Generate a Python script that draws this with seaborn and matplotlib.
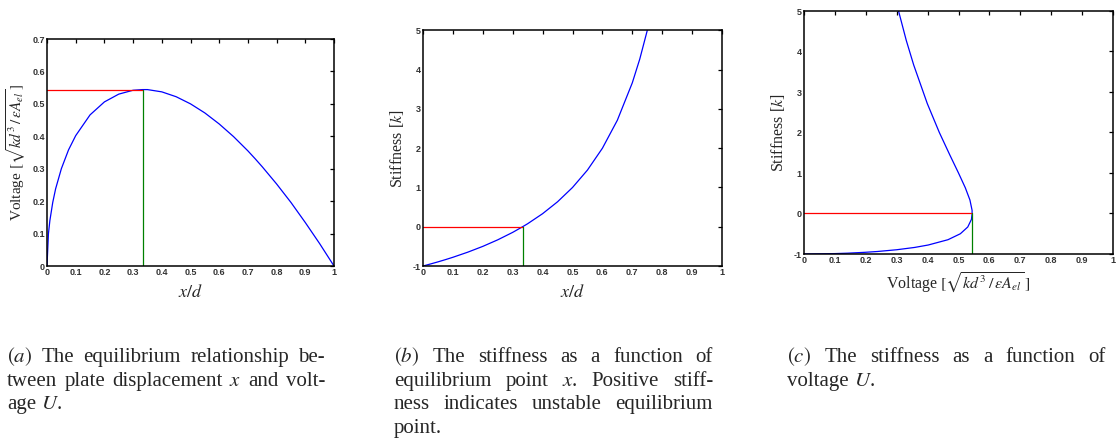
import numpy as np
import matplotlib
matplotlib.use("Agg")
import matplotlib.pyplot as plt
import seaborn as sns

# values
x_pos = [0, 0.005, 0.01, 0.02, 0.03, 0.05, 0.075, 0.1, 0.15, 0.2, 0.25, 0.3,
         0.333, 0.35, 0.4, 0.45, 0.5, 0.55, 0.6, 0.65, 0.7, 0.725, 0.75,
         0.8, 0.85, 0.9, 0.95, 1.0]
voltage = [0, 0.0995, 0.140, 0.196, 0.238, 0.300, 0.358, 0.402, 0.466, 0.506, 0.530, 0.542,
           0.544, 0.544, 0.537, 0.522, 0.500, 0.472, 0.438, 0.399, 0.355, 0.331, 0.306,
           0.253, 0.196, 0.134, 0.069, 0]
# stiffness only up to x/d = 0.75 (top of the plotted range)
stiffness = [-1.0, -0.990, -0.980, -0.959, -0.938, -0.895, -0.838, -0.778, -0.647, -0.500,
             -0.333, -0.143, 0.0, 0.077, 0.333, 0.636, 1.0, 1.444, 2.0, 2.714, 3.667,
             4.273, 5.0]
x_crit = 0.333
u_crit = 0.544

x_ticks = [0, 0.1, 0.2, 0.3, 0.4, 0.5, 0.6, 0.7, 0.8, 0.9, 1]
x_ticklabels = ["0", "0.1", "0.2", "0.3", "0.4", "0.5", "0.6", "0.7", "0.8", "0.9", "1"]
u_ticks = [0, 0.1, 0.2, 0.3, 0.4, 0.5, 0.6, 0.7]
u_ticklabels = ["0", "0.1", "0.2", "0.3", "0.4", "0.5", "0.6", "0.7"]
k_ticks = [-1, 0, 1, 2, 3, 4, 5]
k_ticklabels = ["-1", "0", "1", "2", "3", "4", "5"]

caption_a = [[r"$\mathit{(a)}$", "The", "equilibrium", "relationship", "be-"],
             ["tween", "plate", "displacement", "$x$", "and", "volt-"],
             ["age", "$U$."]]
caption_b = [[r"$\mathit{(b)}$", "The", "stiffness", "as", "a", "function", "of"],
             ["equilibrium", "point", "$x$.", "Positive", "stiff-"],
             ["ness", "indicates", "unstable", "equilibrium"],
             ["point."]]
caption_c = [[r"$\mathit{(c)}$", "The", "stiffness", "as", "a", "function", "of"],
             ["voltage", "$U$."]]

volt_label = r"Voltage $[\sqrt{kd^3\,/\,\varepsilon A_{el}}\,]$"

sns.set_style("white")
plt.rcParams["font.family"] = ["Liberation Serif", "DejaVu Serif"]
plt.rcParams["mathtext.fontset"] = "stix"

W, H = 1116, 440
fig = plt.figure(figsize=(W / 100, H / 100), dpi=100)


def px_axes(l, t, r, b):
    return fig.add_axes([l / W, 1 - b / H, (r - l) / W, (b - t) / H])


def style_axes(ax):
    ax.tick_params(direction="in", length=3, width=0.9, top=True, right=True,
                   labelsize=6.5, colors="black", labelcolor="#333333", pad=1.5)
    for lab in ax.get_xticklabels() + ax.get_yticklabels():
        lab.set_family("Liberation Sans")
        lab.set_weight("bold")
    for s in ax.spines.values():
        s.set_color("black")
        s.set_linewidth(1.1)


blue, red, green = "#0000ff", "#ff0000", "#008000"
n = len(stiffness)

# (a) voltage vs displacement
ax1 = px_axes(47, 39, 334, 266)
sns.lineplot(x=x_pos, y=voltage, ax=ax1, color=blue, lw=0.9, sort=False, estimator=None)
ax1.plot([0, x_crit], [u_crit, u_crit], color=red, lw=0.9)
ax1.plot([x_crit, x_crit], [0, u_crit], color=green, lw=0.9)
ax1.set_xlim(0, 1)
ax1.set_ylim(0, 0.7)
ax1.set_xticks(x_ticks, x_ticklabels)
ax1.set_yticks(u_ticks, u_ticklabels)
ax1.set_xlabel("$x/d$", fontsize=13, labelpad=5)
ax1.set_ylabel(volt_label, fontsize=11, labelpad=3)
style_axes(ax1)

# (b) stiffness vs displacement
ax2 = px_axes(423, 30.5, 722, 266)
sns.lineplot(x=x_pos[:n], y=stiffness, ax=ax2, color=blue, lw=0.9, sort=False, estimator=None)
ax2.plot([0, x_crit], [0, 0], color=red, lw=0.9)
ax2.plot([x_crit, x_crit], [-1, 0], color=green, lw=0.9)
ax2.set_xlim(0, 1)
ax2.set_ylim(-1, 5)
ax2.set_xticks(x_ticks, x_ticklabels)
ax2.set_yticks(k_ticks, k_ticklabels)
ax2.set_xlabel("$x/d$", fontsize=13, labelpad=5)
ax2.set_ylabel("Stiffness [$k$]", fontsize=11.5, labelpad=5)
style_axes(ax2)

# (c) stiffness vs voltage
ax3 = px_axes(804, 11, 1113, 254)
sns.lineplot(x=voltage[:n], y=stiffness, ax=ax3, color=blue, lw=0.9, sort=False, estimator=None)
ax3.plot([0, u_crit], [0, 0], color=red, lw=0.9)
ax3.plot([u_crit, u_crit], [-1, 0], color=green, lw=0.9)
ax3.set_xlim(0, 1)
ax3.set_ylim(-1, 5)
ax3.set_xticks(x_ticks, x_ticklabels)
ax3.set_yticks(k_ticks, k_ticklabels)
ax3.set_xlabel(volt_label, fontsize=11.5, labelpad=4)
ax3.set_ylabel("Stiffness [$k$]", fontsize=11.5, labelpad=5)
style_axes(ax3)

# captions, set as justified text blocks
renderer = fig.canvas.get_renderer()
cap_size = 15


def caption(lines, x0, x1, base0, step=23.7):
    for i, words in enumerate(lines):
        y = 1 - (base0 + i * step) / H
        texts = [fig.text(0, y, w, fontsize=cap_size, va="baseline", ha="left") for w in words]
        widths = [t.get_window_extent(renderer).width for t in texts]
        last = i == len(lines) - 1
        if last or len(words) == 1:
            gap = 5
        else:
            gap = (x1 - x0 - sum(widths)) / (len(words) - 1)
        x = x0
        for t, w in zip(texts, widths):
            t.set_x(x / W)
            x += w + gap


caption(caption_a, 7, 325, 362)
caption(caption_b, 394, 713, 362)
caption(caption_c, 787, 1106, 362)

fig.savefig("out.png", dpi=100)
